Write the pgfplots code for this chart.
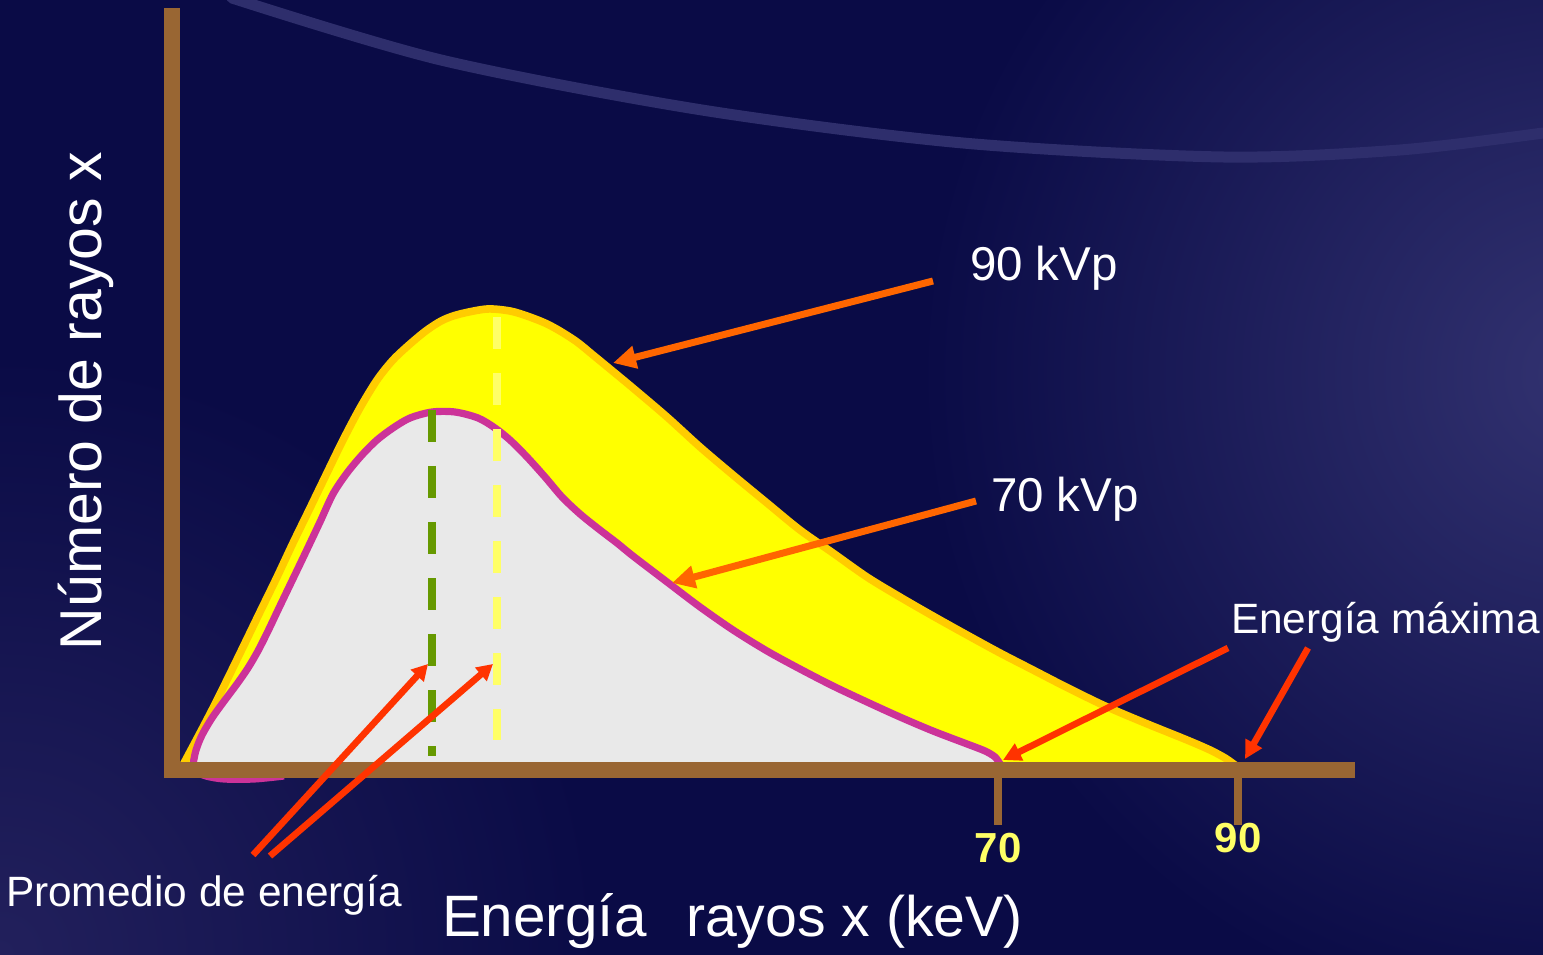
\documentclass[border=0pt]{standalone}
\usepackage{fontspec}
\setmainfont{Liberation Sans}
\usepackage{pgfplots}
\pgfplotsset{compat=1.18}
\usepackage{pgfplotstable}
\usetikzlibrary{arrows.meta}

\definecolor{bg}{RGB}{10,11,70}
\definecolor{bghaze}{RGB}{50,50,112}
\definecolor{bghaze2}{RGB}{34,32,92}
\definecolor{streak}{RGB}{46,46,108}
\definecolor{axisbrown}{RGB}{153,102,51}
\definecolor{yfill}{RGB}{255,255,0}
\definecolor{yborder}{RGB}{255,204,0}
\definecolor{gfill}{RGB}{233,233,233}
\definecolor{mborder}{RGB}{204,51,153}
\definecolor{dgreen}{RGB}{102,153,0}
\definecolor{lyellow}{RGB}{255,255,102}
\definecolor{arrorange}{RGB}{255,102,0}
\definecolor{arrred}{RGB}{255,51,0}

% 90 kVp spectrum (energy keV, relative number of photons)
\pgfplotstableread{
e n
2.08 5
3.5 37
4.67 64
5.83 92
7.17 125
8.5 158
9.92 193
11.25 227
12.67 262
14.08 297
15.42 330
16.83 362
18.25 390
19.58 410
21.0 426
22.42 440
23.75 450
25.17 456
27.42 461
29.33 459
30.75 454
32.25 447
33.5 439
34.92 428
36.25 415
37.67 401
39.58 382
42.42 353
45.17 323
47.92 295
50.75 267
53.5 240
56.25 217
59.08 193
61.83 173
64.58 154
67.42 135
70.17 117
72.92 100
75.67 83
78.92 64
82.25 47
85.75 30
87.67 20
88.92 12
89.75 5
}\ninety

% 70 kVp spectrum
\pgfplotstableread{
e n
2.92 6
3.17 20
3.67 35
4.5 52
5.58 70
6.58 86
7.5 102
8.33 119
9.17 139
10.08 162
11.08 187
12.08 212
13.5 248
14.58 276
15.75 297
17.0 315
18.25 330
19.58 342
21.0 352
22.83 358
24.75 358
26.67 352
28.08 342
29.33 330
30.75 313
32.25 293
33.67 273
35.17 256
36.83 240
38.25 227
39.58 214
42.42 188
45.17 163
47.92 140
50.75 119
53.5 101
56.25 84
59.08 68
61.83 53
64.58 39
67.42 26
68.92 19
69.75 13
70.17 6
}\seventy

\pgfplotstableread{
e n
10.5 -6
8.0 -9
5.5 -9
4.0 -6
3.1 -1
2.92 6
}\seventytail

\begin{document}
\begin{tikzpicture}
% background
\fill[bg] (-6pt,-6pt) rectangle (778pt,484pt);
\begin{scope}
\clip (-6pt,-6pt) rectangle (778pt,484pt);
\shade[inner color=bghaze, outer color=bg] (790pt,290pt) circle (330pt);
\shade[inner color=bghaze2, outer color=bg] (0pt,0pt) circle (300pt);
\begin{scope}[x=0.5pt,y=-0.5pt,yshift=477pt]
\draw[streak, line width=5.5pt, line cap=round] plot[smooth] coordinates {(232,-2) (441,60) (702,110) (963,143) (1223,157) (1400,150) (1543,133)};
\end{scope}
\end{scope}

\begin{axis}[
  at={(86pt,92pt)}, anchor=south west,
  x=6pt, y=0.5pt,
  xmin=1.1667, xmax=99.0833, ymin=0, ymax=754,
  axis lines=left,
  axis line style={-, draw=axisbrown, line width=8pt, line cap=rect},
  axis on top,
  clip=false,
  xtick={70,90},
  xticklabels={70,\raisebox{5pt}{90}},
  ytick=\empty,
  tick align=outside,
  major tick length=27.5pt,
  tick style={draw=axisbrown, line width=3.6pt},
  xticklabel style={font=\fontsize{21}{21}\selectfont\bfseries, text=lyellow, anchor=base, yshift=-18.5pt, inner sep=0pt},
  no markers,
]
\addplot[fill=yfill, draw=none, smooth] table[x=e,y=n] {\ninety} \closedcycle;
\addplot[draw=yborder, line width=3.8pt, smooth] table[x=e,y=n] {\ninety};
\addplot[fill=gfill, draw=none, smooth] table[x=e,y=n] {\seventy} \closedcycle;
\addplot[draw=mborder, line width=3.6pt, smooth] table[x=e,y=n] {\seventytail};
\addplot[draw=mborder, line width=3.6pt, smooth] table[x=e,y=n] {\seventy};
\addplot[draw=dgreen, line width=4pt, dash pattern=on 16pt off 12pt] coordinates {(22.83,360) (22.83,14)};
\addplot[draw=lyellow, line width=4pt, dash pattern=on 16pt off 12pt] coordinates {(28.25,453) (28.25,30)};
\end{axis}

\begin{scope}[x=0.5pt,y=-0.5pt,yshift=477pt]
% arrows
\draw[arrorange, line width=3.5pt, -{Triangle[length=11.5pt,width=11pt]}] (933,281) -- (613,363);
\draw[arrorange, line width=3.5pt, -{Triangle[length=11.5pt,width=11pt]}] (976,501) -- (672,583);
\draw[arrred, line width=3.3pt, -{Triangle[length=8pt,width=8.5pt]}] (253,855) -- (428,664);
\draw[arrred, line width=3.3pt, -{Triangle[length=8pt,width=8.5pt]}] (270,856) -- (493,664);
\draw[arrred, line width=3.3pt, -{Triangle[length=9pt,width=9pt]}] (1228,648) -- (1003,760);
\draw[arrred, line width=3.3pt, -{Triangle[length=9pt,width=9pt]}] (1308,648) -- (1245,759);
% texts
\node[inner sep=0pt, outer sep=0pt, anchor=base west, text=white, font=\fontsize{23.75}{24}\selectfont] at (970,281) {90 kVp};
\node[inner sep=0pt, outer sep=0pt, anchor=base west, text=white, font=\fontsize{23.75}{24}\selectfont] at (991,512) {70 kVp};
\node[inner sep=0pt, outer sep=0pt, anchor=base west, text=white, font=\fontsize{21.2}{22}\selectfont] at (1231,634) {Energía máxima};
\node[inner sep=0pt, outer sep=0pt, anchor=base west, text=white, font=\fontsize{21.2}{22}\selectfont] at (6,907) {Promedio de energía};
\node[inner sep=0pt, outer sep=0pt, anchor=base west, text=white, font=\fontsize{29.2}{29}\selectfont] at (442,936) {Energía};
\node[inner sep=0pt, outer sep=0pt, anchor=base east, text=white, font=\fontsize{28.6}{29}\selectfont] at (1023,936) {rayos x (keV)};
\node[inner sep=0pt, outer sep=0pt, anchor=base, rotate=90, text=white, font=\fontsize{29.5}{30}\selectfont] at (101,401) {Número de rayos x};
\end{scope}

\pgfresetboundingbox
\path[use as bounding box] (0pt,0pt) rectangle (771.5pt,477pt);
\end{tikzpicture}
\end{document}
